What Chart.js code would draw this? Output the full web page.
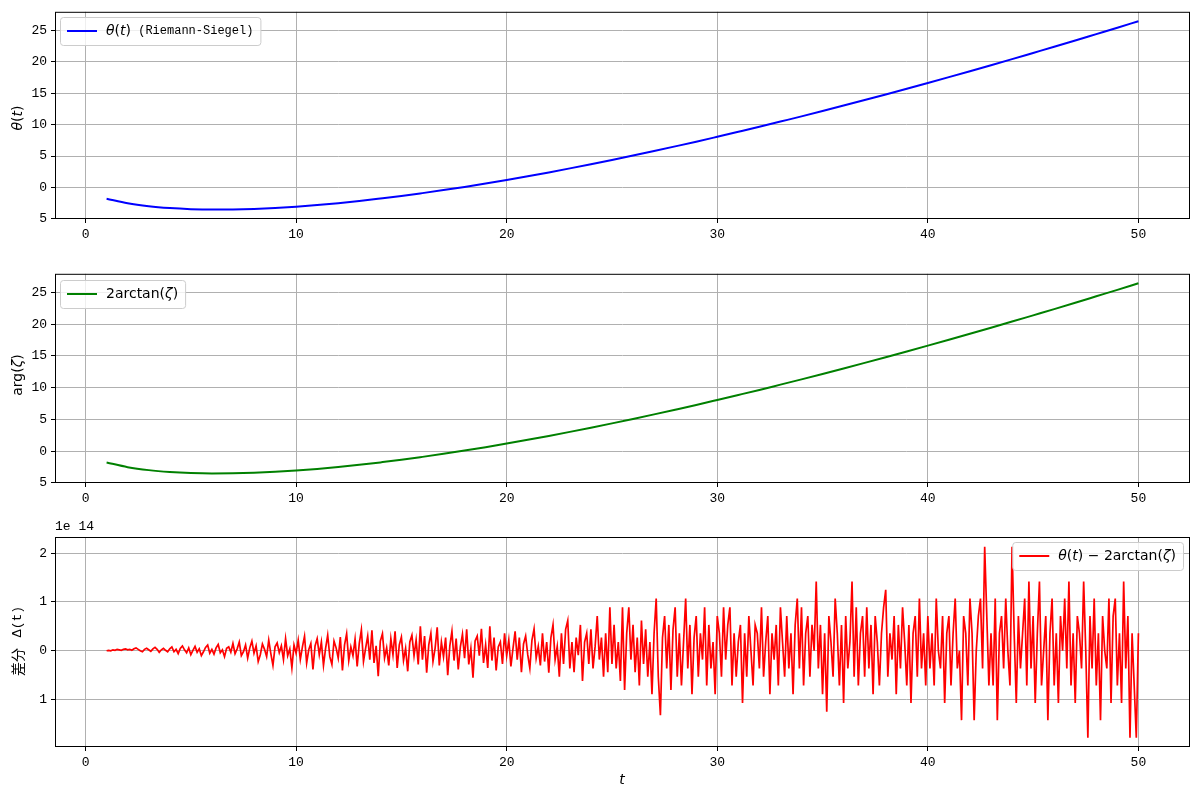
<!DOCTYPE html>
<html>
<head>
<meta charset="utf-8">
<script src="https://cdn.jsdelivr.net/npm/chart.js@4.4.1/dist/chart.umd.min.js"></script>
<style>
  body { margin: 0; background: #fff; width: 1200px; height: 798px; overflow: hidden; position: relative; }
  .box { position: absolute; left: 0; width: 1200px; }
</style>
</head>
<body>
<div class="box" style="top:0;height:250px"><canvas id="c1"></canvas></div>
<div class="box" style="top:262px;height:250px"><canvas id="c2"></canvas></div>
<div class="box" style="top:520px;height:278px"><canvas id="c3"></canvas></div>
<script>
// valores
const tTheta = [1,2,3,4,5,6,7,8,9,10,11,12,13,14,15,16,17,18,19,20,21,22,23,24,25,
  26,27,28,29,30,31,32,33,34,35,36,37,38,39,40,41,42,43,44,45,46,47,48,49,50];
const thetaVals = [-1.79,-2.53,-3.00,-3.29,-3.46,-3.53,-3.51,-3.42,-3.27,-3.07,
  -2.81,-2.51,-2.17,-1.78,-1.37,-0.91,-0.43,0.08,0.62,1.19,
  1.78,2.39,3.03,3.69,4.37,5.07,5.79,6.53,7.28,8.06,
  8.85,9.65,10.48,11.31,12.16,13.03,13.91,14.80,15.71,16.63,
  17.56,18.50,19.46,20.43,21.41,22.39,23.39,24.41,25.43,26.46];
const argVals = [-1.79,-2.53,-3.00,-3.29,-3.46,-3.53,-3.51,-3.42,-3.27,-3.07,
  -2.81,-2.51,-2.17,-1.78,-1.37,-0.91,-0.43,0.08,0.62,1.19,
  1.78,2.39,3.03,3.69,4.37,5.07,5.79,6.53,7.28,8.06,
  8.85,9.65,10.48,11.31,12.16,13.03,13.91,14.80,15.71,16.63,
  17.56,18.50,19.46,20.43,21.41,22.39,23.39,24.41,25.43,26.46];

// diferenca em unidades de 1e-14, t de 1 a 50 (passo 0.1)
const deltaVals = [
  0.00,0.01,0.00,0.02,0.01,0.03,0.02,0.01,0.03,0.04,0.02,0.03,0.01,0.04,0.06,0.03,0.00,-0.02,0.03,0.05,0.02,-0.01,0.04,0.07,0.03,-0.03,0.02,0.05,0.01,-0.02,
  0.04,0.08,-0.02,0.03,-0.06,0.05,0.10,0.02,-0.04,0.06,-0.08,0.01,0.09,-0.03,0.04,-0.10,-0.02,0.07,0.12,-0.05,0.03,-0.07,0.06,0.13,-0.04,0.02,-0.12,0.05,0.08,-0.03,
  0.15,-0.06,0.04,0.18,-0.10,-0.02,0.12,-0.15,0.06,0.20,-0.05,0.10,-0.22,-0.08,0.14,0.03,-0.12,0.22,-0.06,-0.30,0.08,0.16,-0.04,0.10,-0.18,0.25,-0.10,0.04,-0.35,0.12,
  -0.05,0.22,-0.18,0.08,0.30,-0.25,0.02,0.15,-0.38,0.10,0.25,-0.08,0.18,-0.30,0.05,0.32,-0.12,-0.28,0.20,0.06,-0.15,0.28,-0.40,0.12,0.35,-0.20,0.08,-0.10,0.24,-0.32,
  0.15,0.43,-0.22,0.05,0.30,-0.18,0.42,-0.25,0.10,-0.52,0.20,0.35,-0.15,0.06,-0.30,0.25,-0.08,0.40,-0.35,0.12,0.28,-0.20,0.05,-0.42,0.18,0.32,-0.10,0.22,-0.28,0.50,
  -0.18,0.30,-0.45,0.12,0.36,-0.22,0.05,0.48,-0.30,0.18,-0.12,0.27,-0.50,0.10,0.40,-0.20,0.25,-0.38,0.08,0.34,-0.15,0.44,-0.28,0.05,-0.55,0.20,0.30,-0.10,0.45,-0.25,
  0.12,-0.35,0.50,-0.20,0.27,-0.40,0.08,0.18,-0.27,0.36,-0.10,0.22,-0.32,0.05,0.40,-0.18,0.27,-0.44,0.14,0.30,-0.08,-0.36,0.22,0.45,-0.15,0.09,-0.30,0.36,-0.22,0.18,
  -0.45,0.27,0.53,-0.18,0.09,-0.53,0.36,-0.27,0.44,0.62,-0.36,0.18,-0.44,0.27,-0.09,0.53,-0.62,0.18,0.36,-0.27,0.44,-0.36,0.09,0.71,-0.18,0.27,-0.53,0.36,-0.44,0.89,
  -0.27,0.53,-0.36,0.18,-0.62,0.89,-0.80,0.36,0.89,-0.18,0.53,-0.44,0.27,-0.71,0.62,-0.27,0.44,-0.53,0.18,-0.89,0.36,1.07,-0.53,-1.32,0.27,0.71,-0.36,0.53,-0.80,0.44,
  0.89,-0.53,0.36,-0.71,0.18,1.07,-0.36,0.53,-0.89,0.27,0.71,-0.53,0.36,-0.18,0.89,-0.71,0.53,-0.36,0.18,-0.89,0.71,0.36,-0.53,0.89,-0.18,0.53,0.89,-0.71,0.36,-0.53,
  0.18,0.53,-1.07,0.36,-0.53,0.71,0.00,-0.71,0.53,0.36,-0.36,0.89,-0.53,0.18,0.71,-0.89,0.36,-0.18,0.53,-0.71,0.89,0.18,-0.53,0.71,-0.36,0.36,-0.89,0.53,1.07,-0.36,
  0.89,-0.71,0.36,0.71,-0.53,0.53,0.00,1.42,-0.36,0.53,-0.89,0.36,-1.25,0.71,0.18,-0.53,1.07,0.36,-0.71,0.53,-1.07,0.71,-0.36,0.18,1.42,-0.53,0.89,-0.71,0.36,0.71,
  -0.53,0.89,-0.36,0.53,-0.89,0.71,0.18,-0.71,0.36,0.89,1.25,-0.53,0.36,-0.18,0.71,-0.89,0.53,-0.36,0.89,0.18,-0.71,0.53,-1.07,0.36,0.71,-0.53,1.07,-0.36,0.36,-0.71,
  0.71,-0.36,0.36,-0.71,1.07,0.00,-0.36,0.71,-1.07,0.36,0.71,-0.71,0.36,1.07,-0.36,0.00,-1.42,0.71,0.36,-0.71,1.07,0.36,-1.42,0.00,0.71,1.07,-0.36,2.13,0.71,-0.71,
  0.36,-0.71,1.07,-1.42,0.36,0.71,-0.36,1.07,0.00,-0.71,2.13,0.36,-1.07,0.71,-0.36,0.36,1.07,-0.71,1.42,-0.36,0.71,-1.07,0.36,1.42,-0.71,0.00,0.71,-1.42,0.36,1.07,
  -0.71,0.36,-1.07,0.71,0.00,1.07,-0.36,1.42,-0.71,0.36,-1.07,0.71,0.36,-0.36,1.42,0.00,-1.78,0.71,-0.36,1.07,-0.71,0.36,-1.42,0.71,0.00,-0.36,1.07,-1.07,0.71,1.07,
  -0.71,0.36,-1.07,1.42,-0.36,0.71,-1.78,0.36,-0.71,-1.78,0.36
];

const xTicks = [0, 10, 20, 30, 40, 50];
const thetaTicks = [-5, 0, 5, 10, 15, 20, 25];
const deltaTicks = [-1, 0, 1, 2];

const deltaT = deltaVals.map((_, i) => 1 + 49 * i / (deltaVals.length - 1));

const MATH = 'DejaVu Sans';
const CJK = '"Noto Sans CJK JP"';
const MONO = '"Liberation Mono"';

Chart.defaults.font.family = MONO + ', monospace';
Chart.defaults.font.size = 13;
Chart.defaults.color = '#000';

function drawPieces(ctx, pieces, x, y) {
    let cx = x;
    pieces.forEach(p => {
        ctx.font = p[1];
        ctx.fillText(p[0], cx, y);
        cx += ctx.measureText(p[0]).width;
    });
    return cx - x;
}

function piecesWidth(ctx, pieces) {
    let w = 0;
    pieces.forEach(p => { ctx.font = p[1]; w += ctx.measureText(p[0]).width; });
    return w;
}

const it = 'italic 14px ' + MATH;
const up = '14px ' + MATH;

function decor(cfg) {
    return {
        id: 'decor',
        afterDraw(chart) {
            const ctx = chart.ctx;
            const a = chart.chartArea;
            ctx.save();
            // moldura
            ctx.strokeStyle = '#000';
            ctx.lineWidth = 1;
            ctx.strokeRect(a.left + 0.5, a.top + 0.5, a.right - a.left - 1, a.bottom - a.top - 1);

            // legenda
            const lg = cfg.legend;
            const tw = piecesWidth(ctx, lg.pieces);
            const w = 7 + 30 + 9 + tw + 7;
            const h = 28;
            const x0 = lg.right ? lg.x - w : lg.x;
            const y0 = lg.y;
            ctx.beginPath();
            ctx.roundRect(x0 + 0.5, y0 + 0.5, w, h, 3);
            ctx.fillStyle = 'rgba(255,255,255,0.8)';
            ctx.fill();
            ctx.strokeStyle = '#cccccc';
            ctx.stroke();
            ctx.strokeStyle = lg.color;
            ctx.lineWidth = 2;
            ctx.beginPath();
            ctx.moveTo(x0 + 7, y0 + 14);
            ctx.lineTo(x0 + 37, y0 + 14);
            ctx.stroke();
            ctx.fillStyle = '#000';
            ctx.textBaseline = 'middle';
            drawPieces(ctx, lg.pieces, x0 + 46, y0 + 14);

            // titulo do eixo y
            const yt = cfg.yTitle;
            ctx.save();
            ctx.translate(yt.x, yt.y);
            ctx.rotate(-Math.PI / 2);
            const yw = piecesWidth(ctx, yt.pieces);
            drawPieces(ctx, yt.pieces, -yw / 2, 0);
            ctx.restore();

            if (cfg.offset) {
                ctx.font = '13px ' + MONO;
                ctx.textBaseline = 'middle';
                ctx.fillText(cfg.offset, 55, 7);
            }
            if (cfg.xTitle) {
                ctx.textBaseline = 'middle';
                const xw = piecesWidth(ctx, cfg.xTitle);
                drawPieces(ctx, cfg.xTitle, 622 - xw / 2, 260);
            }
            ctx.restore();
        }
    };
}

function makeChart(id, cfg) {
    return new Chart(document.getElementById(id), {
        type: 'line',
        data: {
            datasets: [{
                data: cfg.xs.map((x, i) => ({ x: x, y: cfg.ys[i] })),
                borderColor: cfg.color,
                borderWidth: cfg.lineWidth,
                pointRadius: 0,
                cubicInterpolationMode: cfg.smooth ? 'monotone' : 'default',
                tension: 0,
                fill: false
            }]
        },
        options: {
            responsive: true,
            maintainAspectRatio: false,
            animation: false,
            events: [],
            layout: { padding: { top: cfg.padTop, right: 10, left: 0, bottom: 0 } },
            plugins: { legend: { display: false }, tooltip: { enabled: false } },
            scales: {
                x: {
                    type: 'linear',
                    min: -1.45,
                    max: 52.45,
                    afterBuildTicks: s => { s.ticks = xTicks.map(v => ({ value: v })); },
                    afterFit: s => { s.height = cfg.xHeight; },
                    ticks: { padding: 4, maxRotation: 0, font: { size: 13 } },
                    grid: { color: '#b0b0b0', lineWidth: 1, tickColor: '#000', tickLength: 4 },
                    border: { display: false }
                },
                y: {
                    type: 'linear',
                    min: cfg.yMin,
                    max: cfg.yMax,
                    afterBuildTicks: s => { s.ticks = cfg.yTicks.map(v => ({ value: v })); },
                    afterFit: s => { s.width = 55; },
                    ticks: {
                        padding: 4,
                        font: { size: 13 },
                        callback: v => String(Math.abs(v)) // sem sinal de menos, como na figura
                    },
                    grid: { color: '#b0b0b0', lineWidth: 1, tickColor: '#000', tickLength: 4 },
                    border: { display: false }
                }
            }
        },
        plugins: [decor(cfg)]
    });
}

makeChart('c1', {
    xs: tTheta, ys: thetaVals, color: '#0000ff', lineWidth: 2, smooth: true,
    padTop: 10, xHeight: 31, yMin: -5.03, yMax: 27.96, yTicks: thetaTicks,
    legend: { x: 60, y: 17, color: '#0000ff',
        pieces: [['θ', it], ['(', up], ['t', it], [')', up], [' (Riemann-Siegel)', '12px ' + MONO]] },
    yTitle: { x: 18, y: 118, pieces: [['θ', it], ['(', up], ['t', it], [')', up]] }
});

makeChart('c2', {
    xs: tTheta, ys: argVals, color: '#008000', lineWidth: 2, smooth: true,
    padTop: 10, xHeight: 29, yMin: -5.03, yMax: 27.96, yTicks: thetaTicks,
    legend: { x: 60, y: 18, color: '#008000',
        pieces: [['2arctan(', up], ['ζ', it], [')', up]] },
    yTitle: { x: 18, y: 113, pieces: [['arg(', up], ['ζ', it], [')', up]] }
});

makeChart('c3', {
    xs: deltaT, ys: deltaVals, color: '#ff0000', lineWidth: 1.7, smooth: false,
    padTop: 17, xHeight: 51, yMin: -1.97, yMax: 2.33, yTicks: deltaTicks,
    legend: { x: 1183, y: 22, right: true, color: '#ff0000',
        pieces: [['θ', it], ['(', up], ['t', it], [')', up], [' − 2arctan(', up], ['ζ', it], [')', up]] },
    yTitle: { x: 18, y: 121, pieces: [['差分 ', '14px ' + CJK], [' Δ(t)', '13px ' + MONO]] },
    offset: '1e 14',
    xTitle: [['t', it]]
});
</script>
</body>
</html>
